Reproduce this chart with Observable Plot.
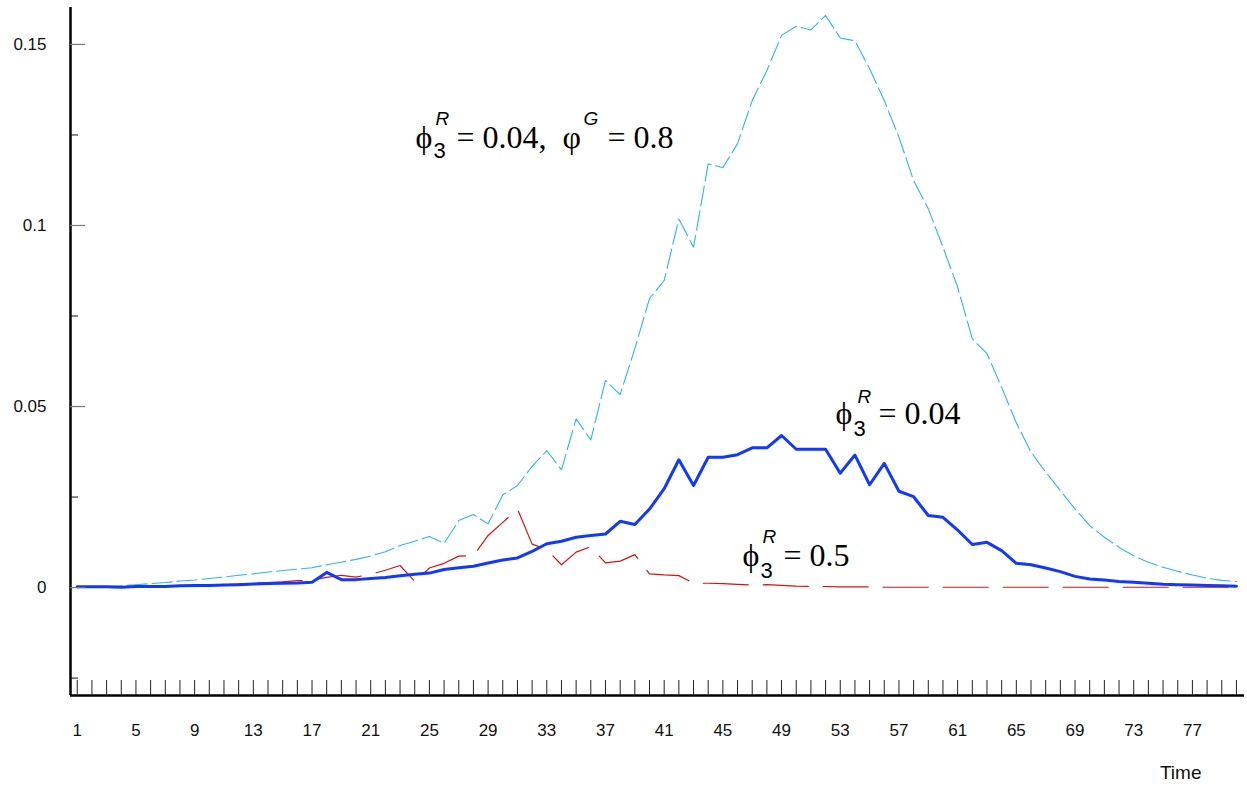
<!DOCTYPE html>
<html><head><meta charset="utf-8">
<script src="https://cdn.jsdelivr.net/npm/d3@7"></script>
<script src="https://cdn.jsdelivr.net/npm/@observablehq/plot@0.6"></script>
<style>body{margin:0;background:#fff}</style>
</head><body><div id="chart"></div>
<script>
const time = [1,2,3,4,5,6,7,8,9,10,11,12,13,14,15,16,17,18,19,20,21,22,23,24,25,26,27,28,29,30,31,32,33,34,35,36,37,38,39,40,41,42,43,44,45,46,47,48,49,50,51,52,53,54,55,56,57,58,59,60,61,62,63,64,65,66,67,68,69,70,71,72,73,74,75,76,77,78,79,80];

// phi3^R = 0.04, varphi^G = 0.8 (light blue dashed)
const seriesPhiG = [0.0000,0.0002,0.0003,0.0005,0.0008,0.0011,0.0014,0.0018,0.0021,0.0025,
  0.0029,0.0034,0.0038,0.0043,0.0047,0.0051,0.0055,0.0063,0.0070,0.0078,
  0.0087,0.0099,0.0116,0.0128,0.0141,0.0122,0.0185,0.0202,0.0176,0.0256,
  0.0282,0.0335,0.0378,0.0325,0.0466,0.0408,0.0572,0.0533,0.0660,0.0798,
  0.0848,0.1018,0.0940,0.1170,0.1160,0.1226,0.1345,0.1428,0.1525,0.1550,
  0.1540,0.1580,0.1518,0.1510,0.1433,0.1345,0.1244,0.1124,0.1046,0.0940,
  0.0830,0.0687,0.0646,0.0553,0.0455,0.0374,0.0319,0.0268,0.0217,0.0171,
  0.0139,0.0111,0.0088,0.0070,0.0056,0.0045,0.0035,0.0026,0.0020,0.0017];

// phi3^R = 0.04 (blue solid)
const seriesPhi004 = [0.0002,0.0002,0.0002,0.0001,0.0003,0.0003,0.0003,0.0005,0.0006,0.0006,
  0.0007,0.0008,0.0010,0.0011,0.0012,0.0013,0.0015,0.0042,0.0022,0.0022,
  0.0025,0.0028,0.0033,0.0037,0.0040,0.0050,0.0055,0.0059,0.0068,0.0076,
  0.0082,0.0100,0.0121,0.0128,0.0139,0.0144,0.0148,0.0183,0.0174,0.0217,
  0.0273,0.0353,0.0282,0.0360,0.0360,0.0367,0.0386,0.0386,0.0420,0.0382,
  0.0382,0.0382,0.0316,0.0366,0.0284,0.0343,0.0266,0.0251,0.0199,0.0194,
  0.0159,0.0119,0.0125,0.0102,0.0067,0.0063,0.0054,0.0044,0.0031,0.0024,
  0.0021,0.0017,0.0015,0.0012,0.0009,0.0008,0.0007,0.0006,0.0005,0.0004];

// phi3^R = 0.5 (red dashed)
const seriesPhi05 = [0.0001,0.0001,0.0001,0.0002,0.0002,0.0003,0.0004,0.0005,0.0006,0.0007,
  0.0008,0.0010,0.0012,0.0014,0.0016,0.0019,0.0021,0.0028,0.0034,0.0029,
  0.0037,0.0048,0.0061,0.0017,0.0054,0.0067,0.0087,0.0088,0.0144,0.0180,
  0.0217,0.0120,0.0105,0.0063,0.0098,0.0113,0.0068,0.0073,0.0091,0.0038,
  0.0035,0.0033,0.0012,0.0012,0.0011,0.0009,0.0007,0.0008,0.0006,0.0004,
  0.0003,0.0003,0.0002,0.0002,0.0002,0.0001,0.0001,0.0001,0.0001,0.0001,
  0.0001,0.0001,0.0001,0.0001,0.0001,0.0001,0.0001,0.0001,0.0001,0.0001,
  0.0001,0.0001,0.0001,0.0001,0.0001,0.0001,0.0001,0.0001,0.0001,0.0001];

const xTickLabels = [1,5,9,13,17,21,25,29,33,37,41,45,49,53,57,61,65,69,73,77];
const yMajorTicks = [0, 0.05, 0.1, 0.15];
const yMinorTicks = [-0.025, 0.025, 0.075, 0.125];
const xDomain = [0.54, 80.55];
const yDomain = [-0.0298, 0.1602];

const toRows = (vals) => time.map((t, i) => ({t, v: vals[i]}));

const annotations = [
  {x: 24.05, y: 0.1213, parts: [["\u03D5","base",0,0],["R","sup",20,-23],["3","sub",18,10],["= 0.04,","base",41,0],["\u03C6","base",147,0],["G","sup",168,-23],["= 0.8","base",192,0]]},
  {x: 52.68, y: 0.0453, parts: [["\u03D5","base",0,0],["R","sup",22,-21],["3","sub",18,12],["= 0.04","base",43,0]]},
  {x: 46.34, y: 0.0061, parts: [["\u03D5","base",0,0],["R","sup",20,-23],["3","sub",18,12],["= 0.5","base",41,0]]}
];
const partStyle = {
  base: {fontFamily: "Liberation Serif, Times New Roman, serif", fontSize: 32, fontStyle: "normal"},
  sup: {fontFamily: "Liberation Sans, Arial, sans-serif", fontSize: 19, fontStyle: "italic"},
  sub: {fontFamily: "Liberation Sans, Arial, sans-serif", fontSize: 22, fontStyle: "normal"}
};
const annotationMarks = [];
for (const a of annotations) {
  for (const [txt, kind, dx, dy] of a.parts) {
    annotationMarks.push(Plot.text([a], {x: "x", y: "y", text: () => txt, dx, dy,
      textAnchor: "start", lineAnchor: "bottom", fill: "black", ...partStyle[kind]}));
  }
}

const chart = Plot.plot({
  width: 1247, height: 787,
  marginLeft: 70, marginRight: 3, marginTop: 7, marginBottom: 92,
  style: {fontFamily: "Liberation Sans, Arial, sans-serif", fontSize: "17px", background: "white", overflow: "visible"},
  x: {domain: xDomain, axis: null},
  y: {domain: yDomain, axis: null},
  marks: [
    Plot.line(toRows(seriesPhiG), {x: "t", y: "v", stroke: "#2ab4ff", strokeWidth: 1.1, strokeDasharray: "20,5"}),
    Plot.line(toRows(seriesPhi05), {x: "t", y: "v", stroke: "#dd1010", strokeWidth: 1.2, strokeDasharray: "45,15"}),
    Plot.line(toRows(seriesPhi004), {x: "t", y: "v", stroke: "#1038ff", strokeWidth: 3}),
    // axis lines
    Plot.ruleX([xDomain[0]], {stroke: "black", strokeWidth: 2.5}),
    Plot.ruleY([yDomain[0]], {stroke: "black", strokeWidth: 2.5}),
    // x ticks (inward)
    Plot.ruleX(time, {x: d => d, y1: yDomain[0], y2: yDomain[0], insetTop: -15, stroke: "#222", strokeWidth: 1}),
    // y ticks
    Plot.ruleY(yMajorTicks, {y: d => d, x1: xDomain[0], x2: xDomain[0], insetRight: -15, stroke: "#777", strokeWidth: 1.2}),
    Plot.ruleY(yMinorTicks, {y: d => d, x1: xDomain[0], x2: xDomain[0], insetRight: -8, stroke: "#111", strokeWidth: 1}),
    // tick labels
    Plot.text(yMajorTicks, {x: xDomain[0], y: d => d, text: d => d3.format("")(d), textAnchor: "end", dx: -24, fontSize: 17, fill: "#111"}),
    Plot.text(xTickLabels, {x: d => d, y: yDomain[0], text: d => String(d), dy: 35, fontSize: 17, fill: "#111"}),
    Plot.text(["Time"], {frameAnchor: "bottom-right", text: d => d, textAnchor: "end", lineAnchor: "bottom", dx: -43, dy: 83, fontSize: 19, fill: "#111"}),
    ...annotationMarks
  ]
});
document.getElementById("chart").appendChild(chart);
</script>
</body></html>
